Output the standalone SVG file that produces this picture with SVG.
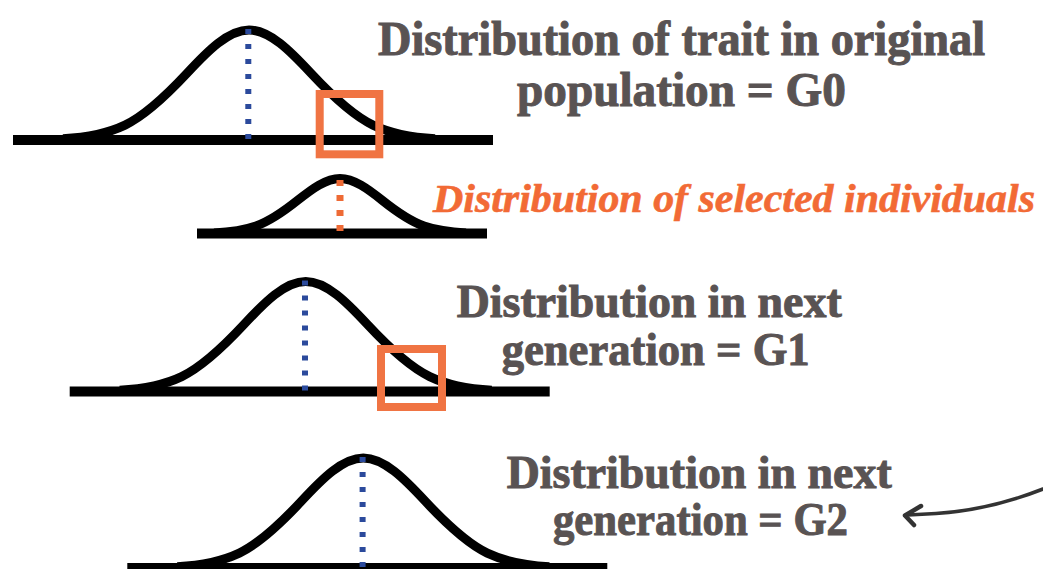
<svg xmlns="http://www.w3.org/2000/svg" width="1043" height="569" viewBox="0 0 1043 569">
<style>
.curve{fill:none;stroke:#000;stroke-width:9;stroke-linecap:butt;stroke-linejoin:round}
.base{stroke:#000;stroke-width:10}
.mean{stroke:#2b4a9c;stroke-width:6;stroke-dasharray:5 10}
.sel{stroke:#ee6a35;stroke-width:7;stroke-dasharray:6 9}
.box{fill:none;stroke:#f07443;stroke-width:8}
.lbl{font-family:'Liberation Serif','Times New Roman',serif;font-weight:700;fill:#595353;stroke:#595353;stroke-width:1}
.olbl{font-family:'Liberation Serif','Times New Roman',serif;font-weight:700;font-style:italic;fill:#f26a35;stroke:#f26a35;stroke-width:0.6}
.arrow{fill:none;stroke:#333;stroke-linecap:round;stroke-linejoin:round}
</style>
<defs>
<g id="bell">
<line class="base" x1="-236" y1="0" x2="244" y2="0"/>
<path class="curve" d="M -186 -1.2 C -165.3 -2.4, -144.7 -5.0, -124 -14.9 C -103.3 -24.8, -82.7 -44.5, -62 -66.7 C -41.3 -89.0, -20.7 -110, 0 -110 C 20.7 -110, 41.3 -89.0, 62 -66.7 C 82.7 -44.5, 103.3 -24.8, 124 -14.9 C 144.7 -5.0, 165.3 -2.4, 186 -1.2"/>
<line class="mean" x1="-0.7" y1="-111" x2="-0.7" y2="8"/>
</g>
</defs>
<g id="g0">
<use href="#bell" transform="translate(249,140)"/>
<rect class="box" x="319.7" y="94" width="59.6" height="60.3"/>
<text class="lbl" x="681.5" y="55" font-size="48" text-anchor="middle" textLength="607" lengthAdjust="spacingAndGlyphs">Distribution of trait in original</text>
<text class="lbl" x="681.5" y="106" font-size="48" text-anchor="middle" textLength="329" lengthAdjust="spacingAndGlyphs">population = G0</text>
</g>
<g id="selected">
<line class="base" x1="197" y1="233.5" x2="487" y2="233.5"/>
<path class="curve" transform="translate(340,233.5)" d="M -126 -0.6 C -112 -1.2, -98 -2.5, -84 -7.4 C -70 -12.4, -56 -22.2, -42 -33.4 C -28 -44.5, -14 -55, 0 -55 C 14 -55, 28 -44.5, 42 -33.4 C 56 -22.2, 70 -12.4, 84 -7.4 C 98 -2.5, 112 -1.2, 126 -0.6"/>
<line class="sel" x1="340" y1="180" x2="340" y2="233"/>
<text class="olbl" x="433" y="212" font-size="40" textLength="602" lengthAdjust="spacingAndGlyphs">Distribution of selected individuals</text>
</g>
<g id="g1">
<use href="#bell" transform="translate(305.7,391.5)"/>
<rect class="box" x="381" y="349" width="61" height="58"/>
<text class="lbl" x="456.7" y="317" font-size="46" textLength="385" lengthAdjust="spacingAndGlyphs">Distribution in next</text>
<text class="lbl" x="501.7" y="365" font-size="46" textLength="308" lengthAdjust="spacingAndGlyphs">generation = G1</text>
</g>
<g id="g2">
<use href="#bell" transform="translate(363.3,568)"/>
<text class="lbl" x="506.7" y="488" font-size="46" textLength="385" lengthAdjust="spacingAndGlyphs">Distribution in next</text>
<text class="lbl" x="553" y="535" font-size="46" textLength="295" lengthAdjust="spacingAndGlyphs">generation = G2</text>
</g>
<g id="connectors">
<path class="arrow" stroke-width="3.5" d="M 1043 489 C 1010 502, 975 511, 936 513.5 L 908 515"/>
<path class="arrow" stroke-width="4.5" d="M 921 506 L 905 515.5 L 914 525"/>
</g>
</svg>
